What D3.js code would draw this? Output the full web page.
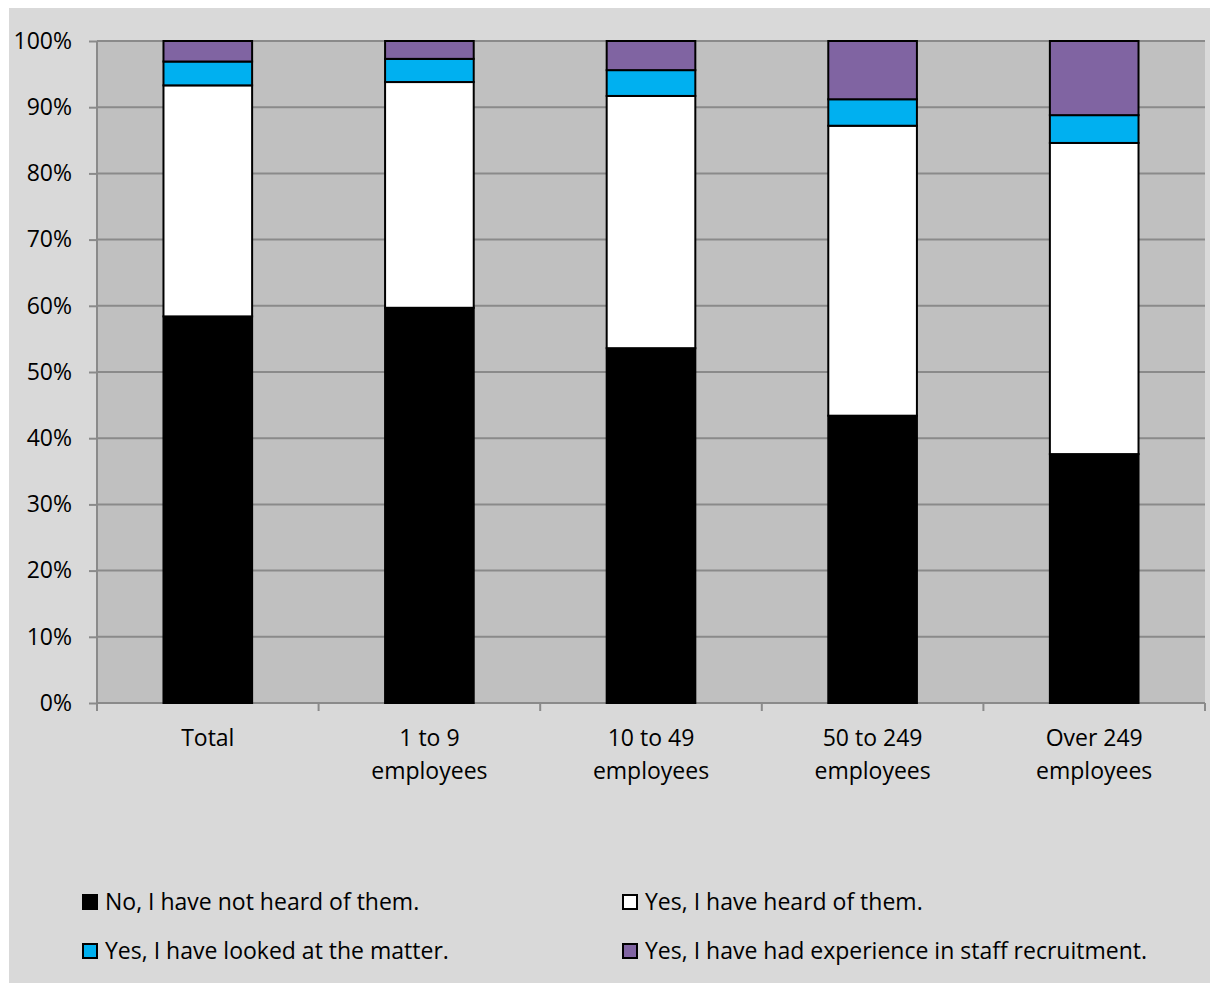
<!DOCTYPE html>
<html><head><meta charset="utf-8">
<script src="https://cdn.jsdelivr.net/npm/d3@7/dist/d3.min.js"></script>
<style>html,body{margin:0;padding:0;background:#fff;}svg{display:block;}</style>
</head><body>
<svg id="c" width="1210" height="983"></svg>
<script>
const categories = [["Total"], ["1 to 9", "employees"], ["10 to 49", "employees"], ["50 to 249", "employees"], ["Over 249", "employees"]];
const seriesNames = ["No, I have not heard of them.", "Yes, I have heard of them.", "Yes, I have looked at the matter.", "Yes, I have had experience in staff recruitment."];
const notHeard   = [58.4, 59.7, 53.6, 43.4, 37.6];
const heard      = [34.9, 34.1, 38.1, 43.8, 47.0];
const looked     = [3.6, 3.5, 3.9, 4.0, 4.2];
const experience = [3.1, 2.7, 4.4, 8.8, 11.2];
const colors = ["#000000", "#ffffff", "#00b0f0", "#8064a2"];
const yTicks = [0,10,20,30,40,50,60,70,80,90,100];

const font = "'Open Sans', sans-serif";
const fs = 23;
const svg = d3.select("#c");
svg.append("rect").attr("x",9).attr("y",8).attr("width",1201).attr("height",975).attr("fill","#d9d9d9");

const L=97, R=1205, T=41, B=703;
const x = d3.scaleBand().domain(d3.range(categories.length)).range([L,R]).paddingInner(0.6).paddingOuter(0.3);
const y = d3.scaleLinear().domain([0,100]).range([B,T]);

svg.append("rect").attr("x",L).attr("y",T).attr("width",R-L).attr("height",B-T).attr("fill","#c0c0c0");

// gridlines
svg.append("g").selectAll("line").data(yTicks.filter(d=>d>0)).join("line")
  .attr("x1",L).attr("x2",R).attr("y1",d=>y(d)).attr("y2",d=>y(d))
  .attr("stroke","#8a8a8a").attr("stroke-width",2);

// y axis
const yAxis = d3.axisLeft(y).tickValues(yTicks).tickFormat(d=>d+"%").tickSize(8).tickPadding(17);
const ya = svg.append("g").attr("transform",`translate(${L},0)`).call(yAxis);
ya.select(".domain").attr("stroke","#8a8a8a").attr("stroke-width",2).attr("d",`M0,${T}V${B}`);
ya.selectAll(".tick line").attr("stroke","#8a8a8a").attr("stroke-width",2);
ya.selectAll("text").attr("font-family",font).attr("font-size",fs).attr("fill","#000");

// x axis
const bounds = d3.range(categories.length+1).map(i=>L+i*(R-L)/categories.length);
svg.append("line").attr("x1",L).attr("x2",R).attr("y1",B).attr("y2",B).attr("stroke","#8a8a8a").attr("stroke-width",2);
svg.append("g").selectAll("line").data(bounds).join("line")
  .attr("x1",d=>d).attr("x2",d=>d).attr("y1",B).attr("y2",B+8).attr("stroke","#8a8a8a").attr("stroke-width",2);

// stacked bars
const data = categories.map((c,i)=>({i, v:[notHeard[i],heard[i],looked[i],experience[i]]}));
const g = svg.append("g");
data.forEach(d=>{
  let acc=0;
  d.v.forEach((v,k)=>{
    const y0=acc, y1=acc+v; acc=y1;
    g.append("rect").attr("x",x(d.i)).attr("width",x.bandwidth())
      .attr("y",y(y1)).attr("height",y(y0)-y(y1))
      .attr("fill",colors[k]).attr("stroke","#000").attr("stroke-width",2);
  });
});

// category labels
const cl = svg.append("g");
categories.forEach((lines,i)=>{
  const t = cl.append("text").attr("x",x(i)+x.bandwidth()/2).attr("y",746)
    .attr("text-anchor","middle").attr("font-family",font).attr("font-size",fs).attr("fill","#000");
  lines.forEach((ln,j)=>t.append("tspan").attr("x",x(i)+x.bandwidth()/2).attr("dy",j?33:0).text(ln));
});

// legend
const legPos = [[83,902],[623,902],[83,951],[623,951]];
const lg = svg.append("g");
seriesNames.forEach((n,k)=>{
  const [lx,ly]=legPos[k];
  lg.append("rect").attr("x",lx).attr("y",ly-7).attr("width",14).attr("height",14)
    .attr("fill",colors[k]).attr("stroke","#000").attr("stroke-width",2);
  lg.append("text").attr("x",lx+22).attr("y",ly).attr("dy","0.35em")
    .attr("font-family",font).attr("font-size",fs).attr("fill","#000").text(n);
});
</script>
</body></html>
